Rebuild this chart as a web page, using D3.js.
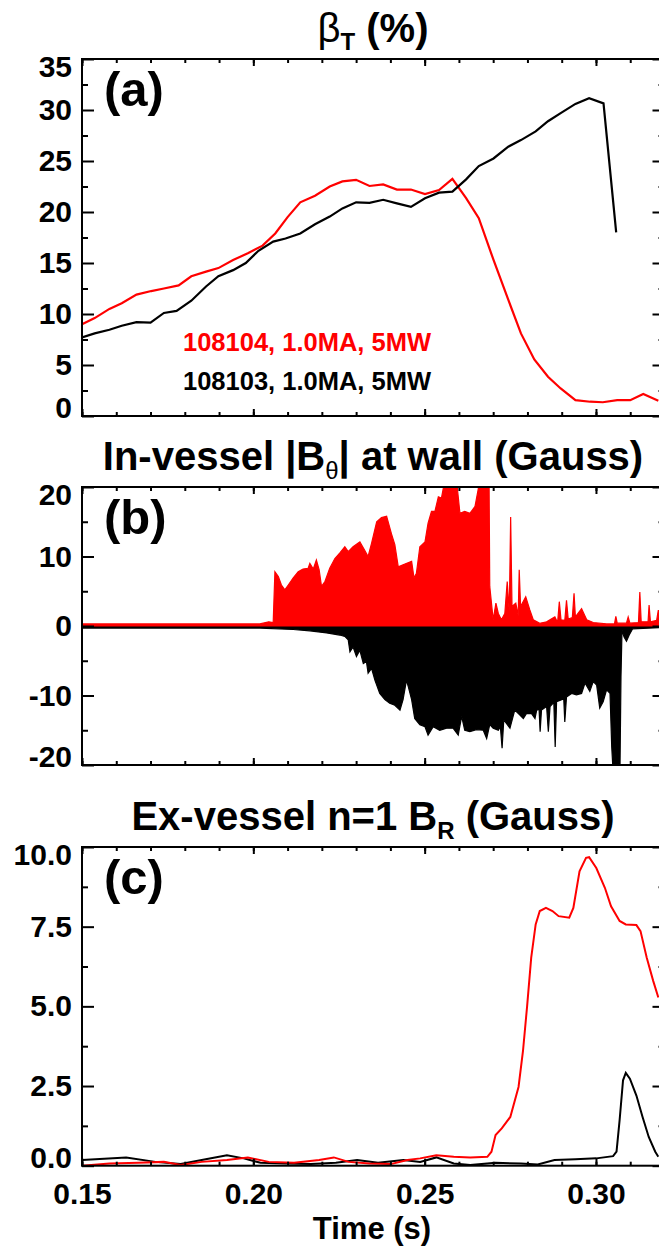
<!DOCTYPE html>
<html>
<head>
<meta charset="utf-8">
<script src="https://cdn.jsdelivr.net/npm/d3@7"></script>
<style>
  body { margin: 0; background: #fff; }
  svg text { font-family: "Liberation Sans", Arial, sans-serif; font-weight: bold; fill: #000; }
</style>
</head>
<body>
<svg id="viz" width="659" height="1249"></svg>
<script>
// (a) beta_T (%) , [time, value]
let beta104 = [[0.150,9.0],[0.1537,9.6],[0.158,10.5],[0.1616,11.05],[0.1659,11.9],[0.1702,12.25],[0.1739,12.5],
  [0.1782,12.8],[0.1819,13.7],[0.1862,14.15],[0.1898,14.5],[0.1941,15.3],[0.1984,15.95],[0.2027,16.7],[0.2064,17.9],
  [0.210,19.5],[0.2137,20.95],[0.218,21.6],[0.2223,22.5],[0.226,23.0],[0.230,23.15],[0.2339,22.55],[0.2379,22.7],
  [0.2419,22.2],[0.246,22.2],[0.2501,21.75],[0.2542,22.15],[0.2581,23.25],[0.2621,21.35],[0.2658,19.4],[0.2701,15.3],
  [0.2744,11.4],[0.2781,8.1],[0.282,5.55],[0.286,3.85],[0.2897,2.7],[0.294,1.55],[0.2983,1.4],[0.302,1.35],
  [0.3062,1.55],[0.310,1.55],[0.3138,2.15],[0.3182,1.5]];
let beta103 = [[0.150,7.7],[0.1537,8.1],[0.158,8.45],[0.1616,8.85],[0.1659,9.2],[0.170,9.15],[0.1739,10.1],
  [0.1776,10.3],[0.1819,11.3],[0.1862,12.7],[0.1898,13.7],[0.1941,14.3],[0.1978,15.0],[0.2015,16.2],[0.2058,17.1],
  [0.2094,17.4],[0.2137,17.9],[0.218,18.8],[0.2223,19.55],[0.226,20.35],[0.230,20.95],[0.2339,20.9],[0.2379,21.2],
  [0.2419,20.85],[0.246,20.5],[0.2501,21.35],[0.2542,21.9],[0.2581,22.0],[0.2621,23.2],[0.2658,24.5],[0.2701,25.25],
  [0.2744,26.4],[0.2781,27.05],[0.2824,27.9],[0.286,28.9],[0.2897,29.7],[0.294,30.6],[0.298,31.15],[0.3022,30.65],
  [0.3059,18.0]];

// (b) in-vessel |B_theta| (Gauss), envelope of the fast signal
let btheta104 = [[0.150,0.3],[0.180,0.3],[0.2019,0.3],[0.2045,0.6],[0.2058,0.5],[0.2063,7.8],[0.2073,7.1],[0.2082,5.9],
  [0.2092,5.2],[0.2102,5.9],[0.2116,6.9],[0.2131,7.8],[0.2145,8.2],[0.2160,8.3],[0.2165,9.0],[0.2175,8.2],[0.2184,9.5],
  [0.2192,8.1],[0.2199,5.7],[0.2209,6.4],[0.2223,8.3],[0.2238,9.7],[0.2252,10.5],[0.2267,11.4],[0.2277,10.7],
  [0.2291,11.4],[0.2311,12.1],[0.2325,10.9],[0.2335,10.0],[0.2345,11.9],[0.2360,15.0],[0.2374,15.6],[0.2389,15.8],
  [0.2403,13.3],[0.2413,11.7],[0.2423,8.5],[0.2437,8.8],[0.2462,9.3],[0.2469,6.9],[0.2476,7.6],[0.2486,11.4],
  [0.2501,12.1],[0.2510,14.8],[0.2520,16.5],[0.2530,16.5],[0.2540,18.6],[0.2549,18.4],[0.2559,21],[0.2593,21],
  [0.2603,16.2],[0.2617,16.5],[0.2632,16.2],[0.2647,17.2],[0.2656,19.6],[0.2661,21],[0.2688,21],[0.2690,5.7],
  [0.2700,0.9],[0.2708,3.3],[0.2715,1.8],[0.2724,0.9],[0.2734,1.8],[0.2741,6.4],[0.2747,2.0],[0.2751,15.7],
  [0.2755,2.8],[0.2766,3.3],[0.2773,1.5],[0.2776,8.1],[0.2780,2.8],[0.2795,4.2],[0.2807,2.3],[0.2817,0.9],
  [0.2836,0.4],[0.2856,0.6],[0.2880,1.3],[0.2888,0.5],[0.2893,3.5],[0.2898,0.9],[0.2909,0.8],[0.2914,3.7],
  [0.2919,1.0],[0.2931,1.2],[0.2936,4.7],[0.2940,1.3],[0.2958,2.5],[0.2973,0.9],[0.2992,0.5],[0.3031,0.3],
  [0.3054,0.3],[0.3058,1.4],[0.3062,0.4],[0.3089,0.4],[0.3094,1.3],[0.3099,0.4],[0.3124,0.5],[0.3128,4.9],
  [0.3132,0.6],[0.3152,0.6],[0.3155,3.0],[0.3159,0.6],[0.3177,0.8],[0.3182,2.3],[0.3190,0.5],[0.320,0.5]];
let btheta103 = [[0.150,-0.3],[0.180,-0.3],[0.2019,-0.3],[0.2116,-0.5],[0.2165,-0.7],[0.2214,-1.0],[0.2252,-1.3],
  [0.2267,-1.5],[0.2277,-2.0],[0.2282,-3.7],[0.2291,-3.0],[0.2301,-4.4],[0.2311,-3.5],[0.2321,-5.4],[0.2330,-5.1],
  [0.2335,-6.8],[0.2345,-6.1],[0.2355,-7.8],[0.2369,-9.7],[0.2384,-10.6],[0.2398,-11.1],[0.2413,-11.4],[0.2428,-12.1],
  [0.2437,-10.6],[0.2447,-7.8],[0.2452,-8.7],[0.2462,-10.6],[0.2471,-13.3],[0.2486,-14.2],[0.2501,-14.5],[0.2510,-15.7],
  [0.2525,-14.5],[0.2544,-15.0],[0.2564,-14.7],[0.2583,-14.7],[0.2598,-15.7],[0.2608,-13.0],[0.2617,-15.0],
  [0.2632,-15.2],[0.2651,-14.9],[0.2671,-15.0],[0.2681,-16.2],[0.2690,-14.2],[0.2700,-14.7],[0.2715,-15.0],
  [0.2721,-14.5],[0.2726,-17.6],[0.2731,-13.5],[0.2749,-14.7],[0.2763,-12.1],[0.2778,-12.8],[0.2788,-13.3],
  [0.2797,-12.6],[0.2812,-12.6],[0.2822,-13.3],[0.2827,-12.1],[0.2834,-12.0],[0.2837,-15.2],[0.2841,-12.1],
  [0.2856,-11.6],[0.2861,-15.2],[0.2866,-11.6],[0.2877,-11.0],[0.2881,-17.4],[0.2885,-10.9],[0.2900,-10.6],
  [0.2906,-10.5],[0.2909,-13.8],[0.2914,-10.2],[0.2929,-9.7],[0.2943,-9.9],[0.2958,-9.7],[0.2968,-8.2],[0.2982,-9.4],
  [0.2992,-8.0],[0.3002,-8.5],[0.3011,-11.8],[0.3021,-10.9],[0.3031,-9.2],[0.3041,-9.7],[0.3046,-17.4],[0.3050,-21],
  [0.3070,-21],[0.3073,-7.3],[0.3076,-0.6],[0.3082,-1.6],[0.3089,-2.2],[0.3097,-1.3],[0.3107,-0.4],[0.320,-0.2]];

// (c) ex-vessel n=1 B_R (Gauss)
let br104 = [[0.150,0.0],[0.158,0.07],[0.1665,0.09],[0.1739,0.12],[0.1788,0.02],[0.1849,0.12],[0.1923,0.18],
  [0.1984,0.26],[0.2045,0.12],[0.2119,0.09],[0.2192,0.18],[0.2235,0.26],[0.2278,0.12],[0.2339,0.07],[0.2401,0.05],
  [0.245,0.18],[0.2487,0.23],[0.2534,0.33],[0.2585,0.28],[0.2633,0.26],[0.2683,0.28],[0.2695,0.44],[0.2707,0.96],
  [0.2725,1.17],[0.275,1.53],[0.2774,2.47],[0.2787,3.6],[0.2799,5.0],[0.2811,6.53],[0.2824,7.57],[0.2836,7.99],
  [0.2854,8.09],[0.2873,7.99],[0.2891,7.83],[0.2922,7.78],[0.2934,8.09],[0.2952,9.24],[0.2971,9.66],[0.298,9.68],
  [0.3001,9.34],[0.3026,8.72],[0.3044,8.14],[0.3069,7.68],[0.3087,7.57],[0.3118,7.55],[0.313,7.36],[0.3148,6.53],
  [0.3167,5.8],[0.3182,5.28]];
let br103 = [[0.150,0.18],[0.1629,0.26],[0.1714,0.12],[0.1788,0.05],[0.1861,0.2],[0.1923,0.33],[0.1972,0.23],
  [0.2021,0.09],[0.2094,0.07],[0.2168,0.05],[0.2241,0.09],[0.2303,0.18],[0.2364,0.09],[0.2438,0.18],[0.2487,0.12],
  [0.2534,0.26],[0.2585,0.07],[0.2633,0.02],[0.2707,0.09],[0.2781,0.07],[0.283,0.04],[0.2879,0.18],[0.294,0.2],
  [0.3001,0.23],[0.305,0.3],[0.306,0.44],[0.3069,1.43],[0.3079,2.68],[0.3087,2.91],[0.3099,2.73],[0.3118,2.2],
  [0.3136,1.53],[0.3154,0.9],[0.3173,0.44],[0.3182,0.28]];

let timeTicks = [0.15, 0.20, 0.25, 0.30];
let betaTicks = [0, 5, 10, 15, 20, 25, 30, 35];
let bthetaTicks = [-20, -10, 0, 10, 20];
let brTicks = [0, 2.5, 5, 7.5, 10];
let shotNames = ["108104, 1.0MA, 5MW", "108103, 1.0MA, 5MW"];
let shotColors = ["#ff0000", "#000000"];

const svg = d3.select('#viz');
const left = 82, right = 664.5;

const x = d3.scaleLinear().domain([0.15, 0.32]).range([left, right]);
let xMinor = d3.range(15, 33).map(d => d / 100);

let panels = [
  {id: 'a', top: 59, bottom: 416, domain: [0, 35], ticks: betaTicks, minor: d3.range(2.5, 35, 5), fmt: d => String(d)},
  {id: 'b', top: 487, bottom: 765, domain: [-20, 20], ticks: bthetaTicks, minor: [-15, -5, 5, 15], fmt: d => String(d)},
  {id: 'c', top: 847, bottom: 1165.7, domain: [0, 10], ticks: brTicks, minor: [1.25, 3.75, 6.25, 8.75], fmt: d => d.toFixed(1)}
];

function makePanel(p, i) {
  p.y = d3.scaleLinear().domain(p.domain).range([p.bottom, p.top]);

  svg.append('clipPath').attr('id', 'clip' + p.id)
    .append('rect').attr('x', left).attr('y', p.top)
    .attr('width', right - left).attr('height', p.bottom - p.top);

  p.plot = svg.append('g').attr('clip-path', 'url(#clip' + p.id + ')');

  // ticks point inward on all four sides
  let gx = svg.append('g');
  gx.append('g').attr('transform', `translate(0,${p.bottom})`)
    .call(d3.axisBottom(x).tickValues(timeTicks).tickSizeInner(-7).tickSizeOuter(0).tickPadding(17)
      .tickFormat(i == 2 ? d => d.toFixed(2) : ''));
  gx.append('g').attr('transform', `translate(0,${p.bottom})`)
    .call(d3.axisBottom(x).tickValues(xMinor).tickSizeInner(-4).tickSizeOuter(0).tickFormat(''));
  gx.append('g').attr('transform', `translate(0,${p.top})`)
    .call(d3.axisTop(x).tickValues(timeTicks).tickSizeInner(-7).tickSizeOuter(0).tickFormat(''));
  gx.append('g').attr('transform', `translate(0,${p.top})`)
    .call(d3.axisTop(x).tickValues(xMinor).tickSizeInner(-4).tickSizeOuter(0).tickFormat(''));

  let gy = svg.append('g');
  gy.append('g').attr('class', 'ylab').attr('transform', `translate(${left},0)`)
    .call(d3.axisLeft(p.y).tickValues(p.ticks).tickSizeInner(-12).tickSizeOuter(0).tickPadding(10).tickFormat(p.fmt));
  gy.append('g').attr('transform', `translate(${left},0)`)
    .call(d3.axisLeft(p.y).tickValues(p.minor).tickSizeInner(-6).tickSizeOuter(0).tickFormat(''));
  gy.append('g').attr('transform', `translate(${right},0)`)
    .call(d3.axisRight(p.y).tickValues(p.ticks).tickSizeInner(-12).tickSizeOuter(0).tickFormat(''));
  gy.append('g').attr('transform', `translate(${right},0)`)
    .call(d3.axisRight(p.y).tickValues(p.minor).tickSizeInner(-6).tickSizeOuter(0).tickFormat(''));

  [gx, gy].forEach(g => {
    g.selectAll('.domain').remove();
    g.selectAll('.tick line').attr('stroke', '#000').attr('stroke-width', 2);
    g.selectAll('.tick text').attr('font-size', 30).attr('font-family', null);
  });
  // end labels sit inside the frame height
  gy.select('.ylab').selectAll('.tick text')
    .attr('y', d => d == p.domain[1] ? 8 : (d == p.domain[0] ? -8 : 0));

  svg.append('rect').attr('x', left).attr('y', p.top)
    .attr('width', right - left).attr('height', p.bottom - p.top)
    .attr('fill', 'none').attr('stroke', '#000').attr('stroke-width', 2);

  svg.append('text').attr('x', 104).attr('y', p.top + 47)
    .attr('font-size', 49).text('(' + p.id + ')');
}

panels.forEach(makePanel);

// (a) beta lines
let pa = panels[0];
let lineA = d3.line().x(d => x(d[0])).y(d => pa.y(d[1]));
[beta104, beta103].forEach((s, k) => {
  pa.plot.append('path').datum(s).attr('d', lineA)
    .attr('fill', 'none').attr('stroke', shotColors[k]).attr('stroke-width', 2.2);
});
shotNames.forEach((n, k) => {
  svg.append('text').attr('x', 183).attr('y', 351 + k * 38.5)
    .attr('font-size', 25.5).style('fill', shotColors[k]).text(n);
});

// (b) filled envelopes, black under red
let pb = panels[1];
let areaB = d3.area().x(d => x(d[0])).y0(pb.y(0)).y1(d => pb.y(d[1]));
[btheta103, btheta104].forEach((s, k) => {
  let c = k == 0 ? shotColors[1] : shotColors[0];
  pb.plot.append('path').datum(s).attr('d', areaB)
    .attr('fill', c).attr('stroke', c).attr('stroke-width', 1.2);
});

// (c) n=1 BR lines
let pc = panels[2];
let lineC = d3.line().x(d => x(d[0])).y(d => pc.y(d[1]));
[br103, br104].forEach((s, k) => {
  pc.plot.append('path').datum(s).attr('d', lineC)
    .attr('fill', 'none').attr('stroke', k == 0 ? shotColors[1] : shotColors[0]).attr('stroke-width', 2);
});

// titles
let tA = svg.append('text').attr('x', 373).attr('y', 42).attr('text-anchor', 'middle').attr('font-size', 40);
tA.append('tspan').style('font-weight', 'normal').text('β');
tA.append('tspan').attr('font-size', 24).attr('dy', 8).text('T');
tA.append('tspan').attr('dy', -8).text(' (%)');

let tB = svg.append('text').attr('x', 373).attr('y', 470).attr('text-anchor', 'middle').attr('font-size', 40);
tB.append('tspan').text('In-vessel |B');
tB.append('tspan').attr('font-size', 24).attr('dy', 9).style('font-weight', 'normal').text('θ');
tB.append('tspan').attr('dy', -9).text('| at wall (Gauss)');

let tC = svg.append('text').attr('x', 373).attr('y', 830).attr('text-anchor', 'middle').attr('font-size', 40);
tC.append('tspan').text('Ex-vessel n=1 B');
tC.append('tspan').attr('font-size', 24).attr('dy', 9).text('R');
tC.append('tspan').attr('dy', -9).text(' (Gauss)');

svg.append('text').attr('x', 372).attr('y', 1239).attr('text-anchor', 'middle')
  .attr('font-size', 31).text('Time (s)');
</script>
</body>
</html>
